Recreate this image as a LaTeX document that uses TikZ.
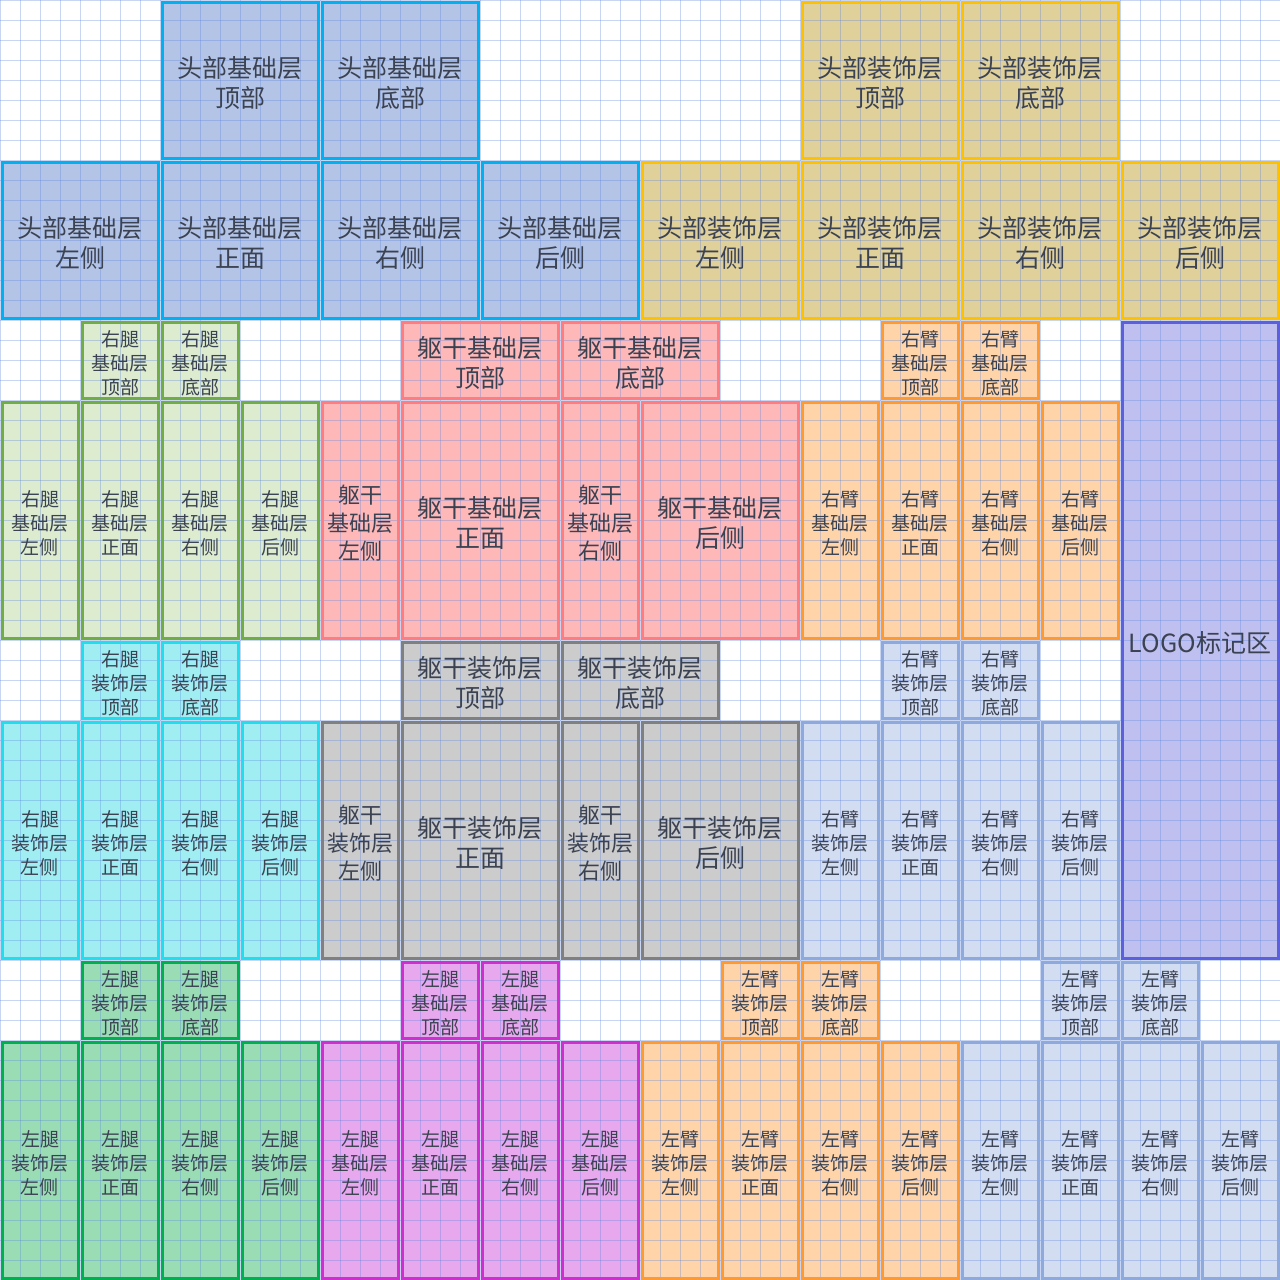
\documentclass[tikz,border=0pt]{standalone}
\usepackage{fontspec}
\setmainfont{Noto Sans CJK SC}
\usepackage{xcolor}
\usepackage{tikz}
\definecolor{textgray}{RGB}{59,66,82}
\definecolor{gridblue}{RGB}{88,130,220}
\definecolor{headbasefill}{RGB}{180,196,230}
\definecolor{headbaseline}{RGB}{0,176,240}
\definecolor{headoverfill}{RGB}{224,208,154}
\definecolor{headoverline}{RGB}{255,192,0}
\definecolor{rlegbasefill}{RGB}{221,235,207}
\definecolor{rlegbaseline}{RGB}{112,173,71}
\definecolor{bodybasefill}{RGB}{255,184,184}
\definecolor{bodybaseline}{RGB}{255,124,128}
\definecolor{armbasefill}{RGB}{255,212,168}
\definecolor{armbaseline}{RGB}{255,153,51}
\definecolor{logofill}{RGB}{192,192,240}
\definecolor{logoline}{RGB}{92,96,220}
\definecolor{rlegoverfill}{RGB}{160,238,242}
\definecolor{rlegoverline}{RGB}{34,221,238}
\definecolor{bodyoverfill}{RGB}{204,204,204}
\definecolor{bodyoverline}{RGB}{128,128,128}
\definecolor{armoverfill}{RGB}{211,221,242}
\definecolor{armoverline}{RGB}{142,169,219}
\definecolor{llegoverfill}{RGB}{154,221,181}
\definecolor{llegoverline}{RGB}{0,176,80}
\definecolor{llegbasefill}{RGB}{232,168,238}
\definecolor{llegbaseline}{RGB}{208,47,208}

\pgfdeclarelayer{facefill}
\pgfdeclarelayer{gridlines}
\pgfsetlayers{facefill,gridlines,main}

\tikzset{
  facetext/.style={inner sep=0pt, align=center, text=textgray, yshift=-3pt},
  faceborder/.style={line width=3pt},
  bigtext/.style={font=\fontsize{25}{30}\selectfont},
  midtext/.style={font=\fontsize{22}{28}\selectfont},
  smalltext/.style={font=\fontsize{19}{24}\selectfont},
  gridline/.style={draw=gridblue, draw opacity=0.32, line width=0.9pt},
  headbase/.style={fill=headbasefill, draw=headbaseline},
  headover/.style={fill=headoverfill, draw=headoverline},
  rlegbase/.style={fill=rlegbasefill, draw=rlegbaseline},
  bodybase/.style={fill=bodybasefill, draw=bodybaseline},
  armbase/.style={fill=armbasefill, draw=armbaseline},
  logoarea/.style={fill=logofill, draw=logoline},
  rlegover/.style={fill=rlegoverfill, draw=rlegoverline},
  bodyover/.style={fill=bodyoverfill, draw=bodyoverline},
  armover/.style={fill=armoverfill, draw=armoverline},
  llegover/.style={fill=llegoverfill, draw=llegoverline},
  llegbase/.style={fill=llegbasefill, draw=llegbaseline}
}

% name, x, y, width, height (skin pixels), style, text
\newcommand{\skinface}[7]{%
  \begin{pgfonlayer}{facefill}
    \fill[#6] (#2+0.05,#3+0.05) rectangle (#2+#4-0.05,#3+#5-0.05);
  \end{pgfonlayer}
  \draw[faceborder, #6, fill=none] (#2+0.1,#3+0.1) rectangle (#2+#4-0.1,#3+#5-0.1);
  \node[facetext, #6, fill=none, draw=none] (#1) at (#2+#4/2,#3+#5/2) {#7};}

\begin{document}
\begin{tikzpicture}[x=20pt, y=-20pt]
  \useasboundingbox (0,0) rectangle (64,64);
  \begin{pgfonlayer}{facefill}
    \fill[white] (0,0) rectangle (64,64);
  \end{pgfonlayer}
  \begin{pgfonlayer}{gridlines}
    \foreach \i in {0,...,64} {
      \draw[gridline] (\i,0) -- (\i,64);
      \draw[gridline] (0,\i) -- (64,\i);
    }
  \end{pgfonlayer}

  % head, base layer
  \skinface{hbtop}{8}{0}{8}{8}{headbase, bigtext}{头部基础层\\顶部}
  \skinface{hbbottom}{16}{0}{8}{8}{headbase, bigtext}{头部基础层\\底部}
  \skinface{hbleft}{0}{8}{8}{8}{headbase, bigtext}{头部基础层\\左侧}
  \skinface{hbfront}{8}{8}{8}{8}{headbase, bigtext}{头部基础层\\正面}
  \skinface{hbright}{16}{8}{8}{8}{headbase, bigtext}{头部基础层\\右侧}
  \skinface{hbback}{24}{8}{8}{8}{headbase, bigtext}{头部基础层\\后侧}
  % head, overlay
  \skinface{hotop}{40}{0}{8}{8}{headover, bigtext}{头部装饰层\\顶部}
  \skinface{hobottom}{48}{0}{8}{8}{headover, bigtext}{头部装饰层\\底部}
  \skinface{holeft}{32}{8}{8}{8}{headover, bigtext}{头部装饰层\\左侧}
  \skinface{hofront}{40}{8}{8}{8}{headover, bigtext}{头部装饰层\\正面}
  \skinface{horight}{48}{8}{8}{8}{headover, bigtext}{头部装饰层\\右侧}
  \skinface{hoback}{56}{8}{8}{8}{headover, bigtext}{头部装饰层\\后侧}

  % right leg, base layer
  \skinface{rlbtop}{4}{16}{4}{4}{rlegbase, smalltext}{右腿\\基础层\\顶部}
  \skinface{rlbbottom}{8}{16}{4}{4}{rlegbase, smalltext}{右腿\\基础层\\底部}
  \skinface{rlbleft}{0}{20}{4}{12}{rlegbase, smalltext}{右腿\\基础层\\左侧}
  \skinface{rlbfront}{4}{20}{4}{12}{rlegbase, smalltext}{右腿\\基础层\\正面}
  \skinface{rlbright}{8}{20}{4}{12}{rlegbase, smalltext}{右腿\\基础层\\右侧}
  \skinface{rlbback}{12}{20}{4}{12}{rlegbase, smalltext}{右腿\\基础层\\后侧}
  % body, base layer
  \skinface{bbtop}{20}{16}{8}{4}{bodybase, bigtext}{躯干基础层\\顶部}
  \skinface{bbbottom}{28}{16}{8}{4}{bodybase, bigtext}{躯干基础层\\底部}
  \skinface{bbleft}{16}{20}{4}{12}{bodybase, midtext}{躯干\\基础层\\左侧}
  \skinface{bbfront}{20}{20}{8}{12}{bodybase, bigtext}{躯干基础层\\正面}
  \skinface{bbright}{28}{20}{4}{12}{bodybase, midtext}{躯干\\基础层\\右侧}
  \skinface{bbback}{32}{20}{8}{12}{bodybase, bigtext}{躯干基础层\\后侧}
  % right arm, base layer
  \skinface{rabtop}{44}{16}{4}{4}{armbase, smalltext}{右臂\\基础层\\顶部}
  \skinface{rabbottom}{48}{16}{4}{4}{armbase, smalltext}{右臂\\基础层\\底部}
  \skinface{rableft}{40}{20}{4}{12}{armbase, smalltext}{右臂\\基础层\\左侧}
  \skinface{rabfront}{44}{20}{4}{12}{armbase, smalltext}{右臂\\基础层\\正面}
  \skinface{rabright}{48}{20}{4}{12}{armbase, smalltext}{右臂\\基础层\\右侧}
  \skinface{rabback}{52}{20}{4}{12}{armbase, smalltext}{右臂\\基础层\\后侧}
  % logo
  \skinface{logo}{56}{16}{8}{32}{logoarea, bigtext}{LOGO标记区}

  % right leg, overlay
  \skinface{rlotop}{4}{32}{4}{4}{rlegover, smalltext}{右腿\\装饰层\\顶部}
  \skinface{rlobottom}{8}{32}{4}{4}{rlegover, smalltext}{右腿\\装饰层\\底部}
  \skinface{rloleft}{0}{36}{4}{12}{rlegover, smalltext}{右腿\\装饰层\\左侧}
  \skinface{rlofront}{4}{36}{4}{12}{rlegover, smalltext}{右腿\\装饰层\\正面}
  \skinface{rloright}{8}{36}{4}{12}{rlegover, smalltext}{右腿\\装饰层\\右侧}
  \skinface{rloback}{12}{36}{4}{12}{rlegover, smalltext}{右腿\\装饰层\\后侧}
  % body, overlay
  \skinface{botop}{20}{32}{8}{4}{bodyover, bigtext}{躯干装饰层\\顶部}
  \skinface{bobottom}{28}{32}{8}{4}{bodyover, bigtext}{躯干装饰层\\底部}
  \skinface{boleft}{16}{36}{4}{12}{bodyover, midtext}{躯干\\装饰层\\左侧}
  \skinface{bofront}{20}{36}{8}{12}{bodyover, bigtext}{躯干装饰层\\正面}
  \skinface{boright}{28}{36}{4}{12}{bodyover, midtext}{躯干\\装饰层\\右侧}
  \skinface{boback}{32}{36}{8}{12}{bodyover, bigtext}{躯干装饰层\\后侧}
  % right arm, overlay
  \skinface{raotop}{44}{32}{4}{4}{armover, smalltext}{右臂\\装饰层\\顶部}
  \skinface{raobottom}{48}{32}{4}{4}{armover, smalltext}{右臂\\装饰层\\底部}
  \skinface{raoleft}{40}{36}{4}{12}{armover, smalltext}{右臂\\装饰层\\左侧}
  \skinface{raofront}{44}{36}{4}{12}{armover, smalltext}{右臂\\装饰层\\正面}
  \skinface{raoright}{48}{36}{4}{12}{armover, smalltext}{右臂\\装饰层\\右侧}
  \skinface{raoback}{52}{36}{4}{12}{armover, smalltext}{右臂\\装饰层\\后侧}

  % left leg, overlay
  \skinface{llotop}{4}{48}{4}{4}{llegover, smalltext}{左腿\\装饰层\\顶部}
  \skinface{llobottom}{8}{48}{4}{4}{llegover, smalltext}{左腿\\装饰层\\底部}
  \skinface{lloleft}{0}{52}{4}{12}{llegover, smalltext}{左腿\\装饰层\\左侧}
  \skinface{llofront}{4}{52}{4}{12}{llegover, smalltext}{左腿\\装饰层\\正面}
  \skinface{lloright}{8}{52}{4}{12}{llegover, smalltext}{左腿\\装饰层\\右侧}
  \skinface{lloback}{12}{52}{4}{12}{llegover, smalltext}{左腿\\装饰层\\后侧}
  % left leg, base layer
  \skinface{llbtop}{20}{48}{4}{4}{llegbase, smalltext}{左腿\\基础层\\顶部}
  \skinface{llbbottom}{24}{48}{4}{4}{llegbase, smalltext}{左腿\\基础层\\底部}
  \skinface{llbleft}{16}{52}{4}{12}{llegbase, smalltext}{左腿\\基础层\\左侧}
  \skinface{llbfront}{20}{52}{4}{12}{llegbase, smalltext}{左腿\\基础层\\正面}
  \skinface{llbright}{24}{52}{4}{12}{llegbase, smalltext}{左腿\\基础层\\右侧}
  \skinface{llbback}{28}{52}{4}{12}{llegbase, smalltext}{左腿\\基础层\\后侧}
  % left arm, orange
  \skinface{labtop}{36}{48}{4}{4}{armbase, smalltext}{左臂\\装饰层\\顶部}
  \skinface{labbottom}{40}{48}{4}{4}{armbase, smalltext}{左臂\\装饰层\\底部}
  \skinface{lableft}{32}{52}{4}{12}{armbase, smalltext}{左臂\\装饰层\\左侧}
  \skinface{labfront}{36}{52}{4}{12}{armbase, smalltext}{左臂\\装饰层\\正面}
  \skinface{labright}{40}{52}{4}{12}{armbase, smalltext}{左臂\\装饰层\\右侧}
  \skinface{labback}{44}{52}{4}{12}{armbase, smalltext}{左臂\\装饰层\\后侧}
  % left arm, overlay
  \skinface{laotop}{52}{48}{4}{4}{armover, smalltext}{左臂\\装饰层\\顶部}
  \skinface{laobottom}{56}{48}{4}{4}{armover, smalltext}{左臂\\装饰层\\底部}
  \skinface{laoleft}{48}{52}{4}{12}{armover, smalltext}{左臂\\装饰层\\左侧}
  \skinface{laofront}{52}{52}{4}{12}{armover, smalltext}{左臂\\装饰层\\正面}
  \skinface{laoright}{56}{52}{4}{12}{armover, smalltext}{左臂\\装饰层\\右侧}
  \skinface{laoback}{60}{52}{4}{12}{armover, smalltext}{左臂\\装饰层\\后侧}
\end{tikzpicture}
\end{document}
